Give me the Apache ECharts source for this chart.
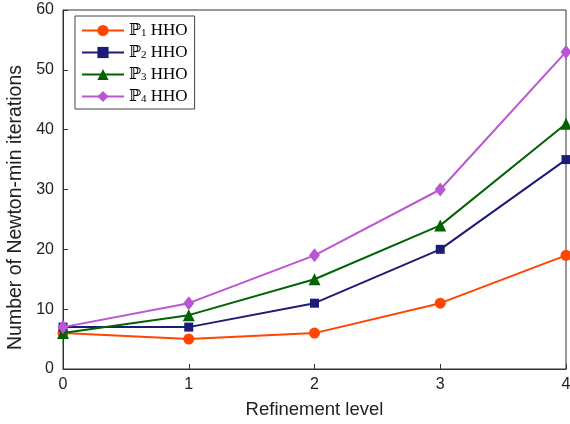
<!DOCTYPE html>
<html><head><meta charset="utf-8">
<script src="https://cdn.jsdelivr.net/npm/echarts@6/dist/echarts.min.js"></script>
<style>html,body{margin:0;padding:0;background:#fff}#c{width:570px;height:424px}</style>
</head><body><div id="c"></div>
<script>
const categories = [0, 1, 2, 3, 4];
const p1 = [6, 5, 6, 11, 19];
const p2 = [7, 7, 11, 20, 35];
const p3 = [6, 9, 15, 24, 41];
const p4 = [7, 11, 19, 30, 53];
const seriesNames = ['P1', 'P2', 'P3', 'P4'];
const subs = {P1: '1', P2: '2', P3: '3', P4: '4'};
const colors = ['#FF4500', '#1C1C78', '#006400', '#BA55D3'];
const symbols = ['circle', 'rect', 'triangle', 'diamond'];
const symSizes = [11, 9, 12, [11, 14]];
const values = [p1, p2, p3, p4];

const chart = echarts.init(document.getElementById('c'));
const axisFont = {fontFamily: 'Liberation Sans, Arial, sans-serif', fontSize: 16, color: '#222'};
chart.setOption({
  animation: false,
  grid: {left: 63, right: 4, top: 10, bottom: 55, show: true, borderColor: '#333', borderWidth: 1,
         containLabel: false, outerBoundsMode: 'none'},
  xAxis: {
    type: 'value', min: 0, max: 4, interval: 1,
    name: 'Refinement level', nameLocation: 'middle', nameGap: 31,
    nameTextStyle: {...axisFont, fontSize: 18.5},
    axisLine: {lineStyle: {color: '#333'}},
    axisTick: {inside: true, length: 5, lineStyle: {color: '#333'}},
    axisLabel: {...axisFont, margin: 8},
    splitLine: {show: false}
  },
  yAxis: {
    type: 'value', min: 0, max: 60, interval: 10,
    name: 'Number of Newton-min iterations', nameLocation: 'middle', nameGap: 36,
    nameTextStyle: {...axisFont, fontSize: 19.5, padding: [0, 36, 0, 0]},
    axisLine: {show: true, lineStyle: {color: '#333'}},
    axisTick: {show: true, inside: true, length: 5, lineStyle: {color: '#333'}},
    axisLabel: {...axisFont, margin: 9},
    splitLine: {show: false}
  },
  legend: {
    left: 75, top: 16, orient: 'vertical',
    backgroundColor: '#fff', borderColor: '#444', borderWidth: 1,
    padding: [6, 7, 4, 6], itemGap: 5, itemWidth: 42, itemHeight: 14,
    data: seriesNames,
    formatter: n => '{p|ℙ}{s|' + subs[n] + '}{t| HHO}',
    textStyle: {
      rich: {
        p: {fontFamily: 'DejaVu Serif', fontSize: 16, color: '#000'},
        s: {fontFamily: 'Liberation Serif', fontSize: 11, color: '#000', verticalAlign: 'bottom', padding: [6, 0, 0, 0]},
        t: {fontFamily: 'Liberation Serif', fontSize: 17, color: '#000'}
      }
    }
  },
  series: seriesNames.map((n, i) => ({
    name: n, type: 'line',
    data: categories.map((c, j) => [c, values[i][j]]),
    symbol: symbols[i],
    symbolSize: symSizes[i],
    color: colors[i],
    lineStyle: {width: 2, color: colors[i]},
    itemStyle: {color: colors[i]},
    z: 2 + i
  }))
});
</script></body></html>
